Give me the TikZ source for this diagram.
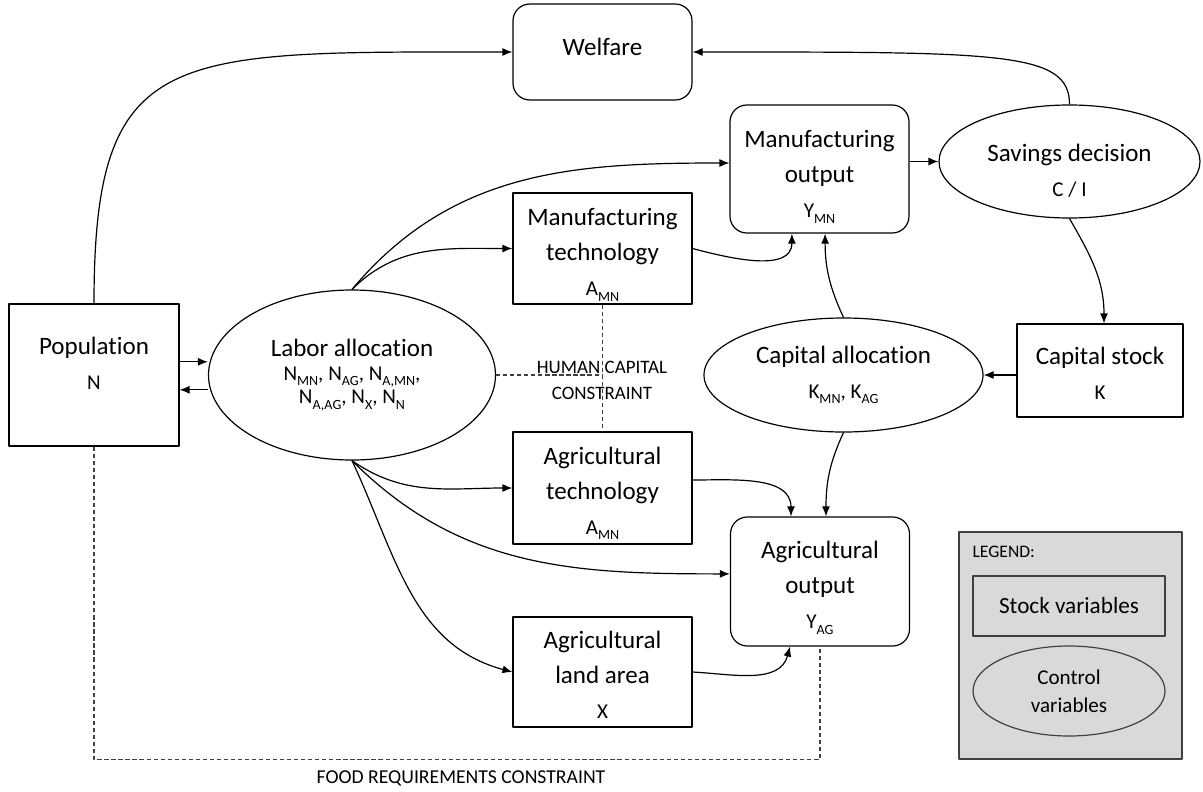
\documentclass[tikz,border=0pt]{standalone}
\usepackage{fontspec}
\setmainfont{Carlito}[Ligatures=NoCommon]
\usetikzlibrary{arrows.meta,shapes.geometric}
\definecolor{lgray}{HTML}{D9D9D9}
\newcommand\varf{\fontsize{15}{25}\selectfont}
\newcommand\vsub[1]{\raisebox{-0.55ex}{\fontsize{10}{10}\selectfont #1}}
\begin{document}
\begin{tikzpicture}[line join=round, line width=0.85pt, >={Latex[length=2.5mm,width=2mm]},
		font=\fontsize{17.8}{25}\selectfont,
		every node/.style={inner sep=0pt, align=center},
		stockbox/.style={draw, rectangle, minimum width=4.475cm},
		outbox/.style={draw, rectangle, rounded corners=0.42cm, minimum width=4.475cm},
		ctrlell/.style={draw, ellipse},
		flow/.style={->},
		cstr/.style={dash pattern=on 3pt off 2pt, black!75},
		note/.style={font=\fontsize{13.5}{18.5}\selectfont}]
		\useasboundingbox (0,0) rectangle (30.075,-19.8);
		% stocks, outputs and controls
		\node[stockbox, minimum width=4.25cm, minimum height=3.55cm, text depth=17pt] (pop) at (2.35,-9.375) {Population\\{\varf N}};
		\node[ctrlell, minimum width=7.175cm, minimum height=4.25cm] (labor) at (8.8,-9.375) {Labor allocation\\[-8pt]{\varf N\vsub{MN}, N\vsub{AG}, N\vsub{A,MN},}\\[-8pt]{\varf N\vsub{A,AG}, N\vsub{X}, N\vsub{N}}};
		\node[outbox, minimum height=2.4cm, text depth=7pt] (welfare) at (15.0625,-1.3) {Welfare};
		\node[stockbox, minimum height=2.775cm, text height=67pt, text depth=0pt] (mtech) at (15.0625,-6.2125) {Manufacturing\\technology\\{\varf A\vsub{MN}}};
		\node[stockbox, minimum height=2.8cm, text height=66pt, text depth=0pt] (atech) at (15.0625,-12.2) {Agricultural\\technology\\{\varf A\vsub{MN}}};
		\node[stockbox, minimum height=2.75cm, text height=66pt, text depth=0pt] (land) at (15.0625,-16.8) {Agricultural\\land area\\{\varf X}};
		\node[outbox, minimum height=3.2cm, text height=69pt, text depth=0pt] (mout) at (20.4875,-4.225) {Manufacturing\\output\\{\varf Y\vsub{MN}}};
		\node[outbox, minimum height=3.225cm, text height=67.5pt, text depth=0pt] (aout) at (20.5,-14.5375) {Agricultural\\output\\{\varf Y\vsub{AG}}};
		\node[ctrlell, minimum width=6.525cm, minimum height=2.825cm, text height=50.4pt] (save) at (26.7375,-4.0375) {Savings decision\\{\varf C / I}};
		\node[stockbox, minimum width=4.15cm, minimum height=2.325cm, text height=41.7pt] (kstock) at (27.5,-9.2625) {Capital stock\\{\varf K}};
		\node[ctrlell, minimum width=6.975cm, minimum height=2.85cm] (kalloc) at (21.0875,-9.375) {Capital allocation\\{\varf K\vsub{MN}, K\vsub{AG}}};
		% legend
		\node[draw=black!75, fill=lgray, minimum width=5.575cm, minimum height=5.675cm] (legend) at (26.7625,-16.1375) {};
		\node[note, anchor=west, font=\fontsize{12.5}{15}\selectfont] (legtitle) at (24.3,-13.8) {LEGEND:};
		\node[stockbox, draw=black!75, fill=lgray, minimum width=4.8cm, minimum height=1.5cm, font=\fontsize{16.5}{20}\selectfont] (lgstock) at (26.725,-15.15) {Stock variables};
		\node[ctrlell, draw=black!75, fill=lgray, minimum width=4.8cm, minimum height=2.25cm, font=\fontsize{15}{20}\selectfont] (lgctrl) at (26.725,-17.275) {Control\\variables};
		% links
		\draw[flow] (pop.north) .. controls +(0,6.475) and +(-8.575,0) .. (welfare.west);
		\draw[flow] (save.north) .. controls +(0,1.325) and +(7.7,0) .. (welfare.east);
		\draw[flow] ([yshift=0.33cm]pop.east) -- ([yshift=0.33cm]labor.west);
		\draw[flow] ([yshift=-0.37cm]labor.west) -- ([yshift=-0.37cm]pop.east);
		\draw[flow] (labor.north) to[out=50,in=180] ([yshift=0.15cm]mout.west);
		\draw[flow] (labor.north) to[out=45,in=180] (mtech.west);
		\draw[flow] (mtech.east) to[out=-15,in=-90] ([xshift=-0.69cm]mout.south);
		\draw[flow] (kalloc.north) to[out=115,in=-90] ([xshift=0.14cm]mout.south);
		\draw[flow] (mout.east |- save.west) -- (save.west);
		\draw[flow] (save.south) to[out=-60,in=90] ([xshift=0.1cm]kstock.north);
		\draw[flow] (kstock.west |- kalloc.east) -- (kalloc.east);
		\draw[flow] (kalloc.south) to[out=-115,in=90] ([xshift=0.15cm]aout.north);
		\draw[flow] ([yshift=0.2cm]atech.east) to[out=0,in=90] ([xshift=-0.725cm]aout.north);
		\draw[flow] (labor.south) to[out=-35,in=180] (atech.west);
		\draw[flow] (labor.south) to[out=-45,in=180] ([yshift=0.19cm]aout.west);
		\draw[flow] (labor.south) to[out=-65,in=165] (land.west);
		\draw[flow] (land.east) to[out=-3,in=-105] ([xshift=-0.75cm]aout.south);
		% constraints
		\draw[cstr] (labor.east) -- (labor.east -| mtech.south);
		\draw[cstr] (mtech.south) -- (atech.north);
		\node[note] (hcc) at (15.05,-9.5) {HUMAN CAPITAL\\CONSTRAINT};
		\draw[cstr] (pop.south) -- ++(0,-7.825) -| (aout.south);
		\node[note, font=\fontsize{14}{17}\selectfont] (frc) at (11.525,-19.45) {FOOD REQUIREMENTS CONSTRAINT};
	\end{tikzpicture}
\end{document}
